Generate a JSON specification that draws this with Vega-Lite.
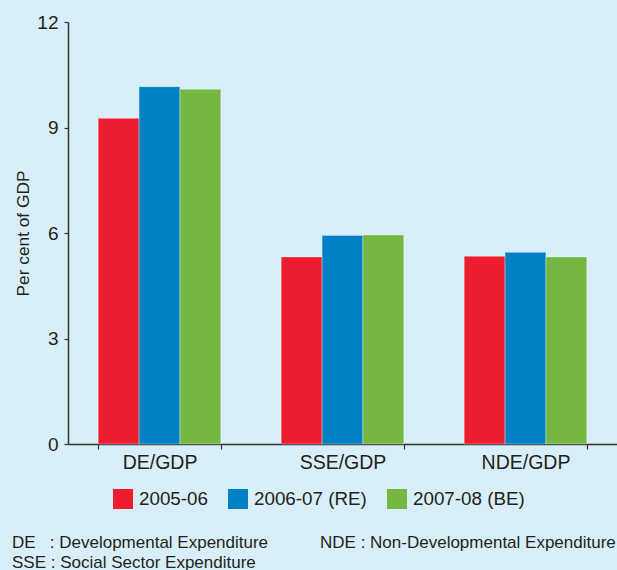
{
  "$schema": "https://vega.github.io/schema/vega-lite/v6.json",
  "autosize": "none",
  "width": 549,
  "height": 422,
  "padding": {"left": 68, "top": 22, "right": 0, "bottom": 126},
  "background": "#d8eff9",
  "config": {
    "font": "Liberation Sans",
    "view": {"stroke": null},
    "axis": {"labelColor": "#231f20", "titleColor": "#231f20", "domainColor": "#333333", "tickColor": "#333333", "domainWidth": 1.5, "tickWidth": 1.2}
  },
  "title": {
    "text": [
      "DE\u00a0\u00a0\u00a0: Developmental Expenditure\u00a0\u00a0\u00a0\u00a0\u00a0\u00a0\u00a0\u00a0\u00a0\u00a0\u00a0NDE : Non-Developmental Expenditure",
      "SSE : Social Sector Expenditure"
    ],
    "orient": "bottom",
    "anchor": "start",
    "frame": "group",
    "dx": -56,
    "offset": 26,
    "fontSize": 17,
    "fontWeight": "normal",
    "lineHeight": 20,
    "color": "#231f20",
    "font": "Liberation Sans"
  },
  "data": {
    "values": [
      {"category": "DE/GDP", "year": "2005-06", "value": 9.26},
      {"category": "DE/GDP", "year": "2006-07 (RE)", "value": 10.16},
      {"category": "DE/GDP", "year": "2007-08 (BE)", "value": 10.09},
      {"category": "SSE/GDP", "year": "2005-06", "value": 5.32},
      {"category": "SSE/GDP", "year": "2006-07 (RE)", "value": 5.93},
      {"category": "SSE/GDP", "year": "2007-08 (BE)", "value": 5.94},
      {"category": "NDE/GDP", "year": "2005-06", "value": 5.34},
      {"category": "NDE/GDP", "year": "2006-07 (RE)", "value": 5.45},
      {"category": "NDE/GDP", "year": "2007-08 (BE)", "value": 5.32}
    ]
  },
  "mark": {"type": "bar", "stroke": "#ffffff", "strokeOpacity": 0.35, "strokeWidth": 1},
  "encoding": {
    "x": {
      "field": "category", "type": "nominal", "sort": ["DE/GDP", "SSE/GDP", "NDE/GDP"],
      "scale": {"paddingInner": 0.33, "paddingOuter": 0.165},
      "axis": {"title": null, "labelAngle": 0, "labelFontSize": 19.5, "labelPadding": 4, "tickSize": 5, "tickBand": "extent"}
    },
    "xOffset": {"field": "year", "type": "nominal", "scale": {"paddingInner": 0, "paddingOuter": 0}},
    "y": {
      "field": "value", "type": "quantitative",
      "scale": {"domain": [0, 12], "nice": false},
      "axis": {"values": [0, 3, 6, 9, 12], "grid": false, "tickSize": 4, "labelFontSize": 19, "labelPadding": 6,
        "title": "Per cent of GDP", "titleFontSize": 17.3, "titleFontWeight": "normal", "titleX": -40, "titleY": 211, "titleAngle": -90, "titleBaseline": "alphabetic", "titleAlign": "center"}
    },
    "color": {
      "field": "year", "type": "nominal",
      "scale": {"domain": ["2005-06", "2006-07 (RE)", "2007-08 (BE)"], "range": ["#ed1c2e", "#0080c5", "#76b743"]},
      "legend": {"title": null, "orient": "none", "legendX": 45, "legendY": 467, "direction": "horizontal", "symbolType": "square", "symbolSize": 400, "symbolStrokeWidth": 0, "labelFontSize": 18.8, "labelColor": "#231f20", "labelOffset": 6, "columnPadding": 20}
    }
  }
}
